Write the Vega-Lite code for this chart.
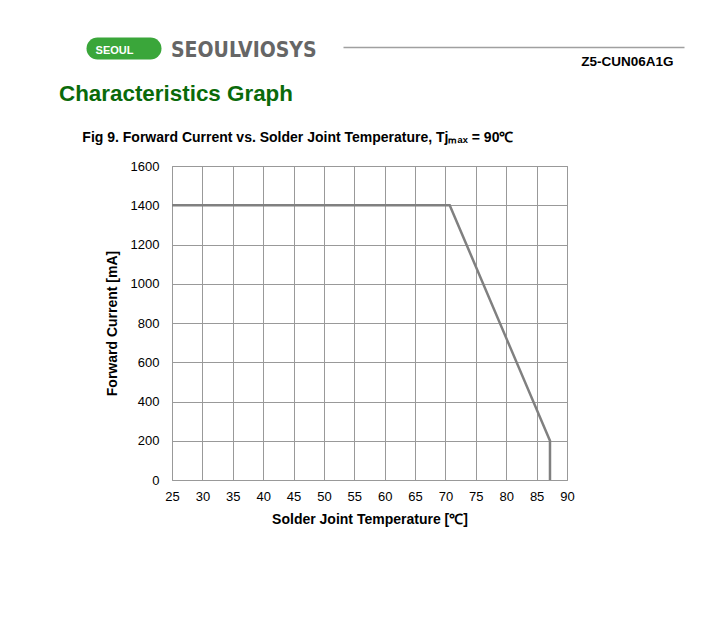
{
  "$schema": "https://vega.github.io/schema/vega-lite/v6.json",
  "background": "white",
  "padding": {"left": 58, "top": 37, "right": 5, "bottom": 5},
  "spacing": 14,
  "data": {"values": [
    {"i": 1, "T": 25, "I": 1400},
    {"i": 2, "T": 70.7, "I": 1400},
    {"i": 3, "T": 87.2, "I": 200},
    {"i": 4, "T": 87.2, "I": 0}
  ]},
  "config": {
    "font": "Liberation Sans",
    "view": {"stroke": "#999999", "strokeWidth": 1},
    "axis": {
      "labelFont": "Liberation Sans",
      "labelFontSize": 13,
      "labelColor": "#000000",
      "titleFont": "Liberation Sans",
      "titleFontSize": 14,
      "titleFontWeight": "bold",
      "titleColor": "#000000"
    }
  },
  "vconcat": [
    {
      "width": 512,
      "height": 1,
      "view": {"stroke": null},
      "title": {
        "text": "SEOULVIOSYS",
        "anchor": "start",
        "frame": "group",
        "font": "DejaVu Sans Condensed",
        "fontSize": 21,
        "fontWeight": "bold",
        "color": "#666666",
        "baseline": "alphabetic",
        "offset": 0,
        "dx": -1,
        "dy": 40.7
      },
      "mark": {"type": "point", "opacity": 0},
      "encoding": {
        "x": {
          "field": "T",
          "type": "quantitative",
          "scale": {"domain": [25, 90], "range": [171, 512]},
          "axis": {
            "domain": true,
            "domainColor": "#a0a0a0",
            "domainWidth": 1.5,
            "ticks": false,
            "grid": false,
            "labels": false,
            "title": "Z5-CUN06A1G",
            "titleFontSize": 13.5,
            "titleAnchor": "end",
            "titleAlign": "right",
            "titleBaseline": "top",
            "titleX": 501,
            "titleY": 7
          }
        },
        "y": {
          "field": "I",
          "type": "quantitative",
          "scale": {"domain": [0, 1600]},
          "axis": {
            "domain": false,
            "grid": false,
            "labels": false,
            "values": [0],
            "ticks": true,
            "offset": 22,
            "tickSize": 53,
            "tickWidth": 22,
            "tickCap": "round",
            "tickColor": "#3aa63a",
            "tickOffset": 1.3,
            "title": "SEOUL",
            "titleFont": "Liberation Sans",
            "titleFontSize": 11,
            "titleFontWeight": "bold",
            "titleColor": "#ffffff",
            "titleAngle": 0,
            "titleAlign": "center",
            "titleBaseline": "middle",
            "titleX": -36,
            "titleY": 4
          }
        }
      }
    },
    {
      "width": 395,
      "height": 314,
      "title": {
        "text": "Characteristics Graph",
        "subtitle": "\u200b\u00a0\u00a0\u00a0\u00a0\u00a0\u00a0Fig 9. Forward Current vs. Solder Joint Temperature, Tjₘₐₓ = 90℃",
        "anchor": "start",
        "frame": "group",
        "font": "Liberation Sans",
        "fontSize": 22.4,
        "fontWeight": "bold",
        "color": "#0a6a0a",
        "subtitleFont": "Liberation Sans",
        "subtitleFontSize": 14,
        "subtitleFontWeight": "bold",
        "subtitleColor": "#000000",
        "subtitlePadding": 26,
        "offset": 15,
        "dx": -113
      },
      "mark": {"type": "line", "color": "#808080", "strokeWidth": 2.5},
      "encoding": {
        "x": {
          "field": "T",
          "type": "quantitative",
          "scale": {"domain": [25, 90], "nice": false, "zero": false},
          "axis": {
            "values": [25, 30, 35, 40, 45, 50, 55, 60, 65, 70, 75, 80, 85, 90],
            "title": "Solder Joint Temperature [℃]",
            "domain": false,
            "ticks": false,
            "grid": true,
            "gridColor": "#999999",
            "labelFlush": false,
            "labelPadding": 10.5,
            "titlePadding": 9
          }
        },
        "y": {
          "field": "I",
          "type": "quantitative",
          "scale": {"domain": [0, 1600], "nice": false},
          "axis": {
            "values": [0, 200, 400, 600, 800, 1000, 1200, 1400, 1600],
            "format": "d",
            "title": "Forward Current [mA]",
            "domain": false,
            "ticks": false,
            "grid": true,
            "gridColor": "#999999",
            "labelFlush": false,
            "labelPadding": 13,
            "titlePadding": 11
          }
        },
        "order": {"field": "i"}
      }
    }
  ]
}
